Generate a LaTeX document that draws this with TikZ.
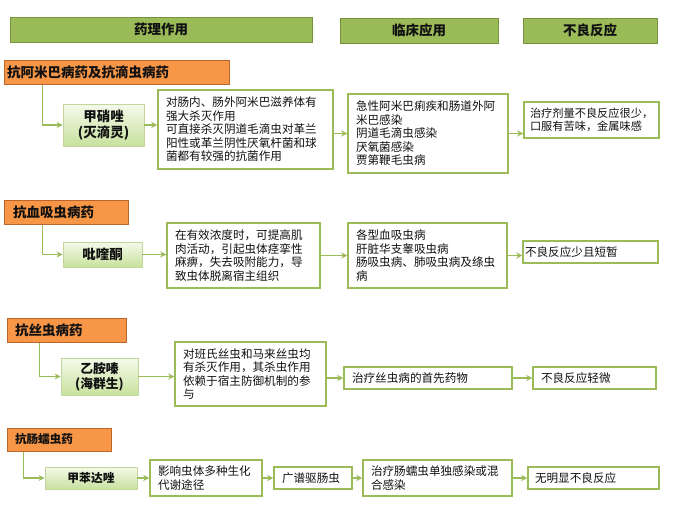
\documentclass[tikz,border=0pt]{standalone}
\usepackage{fontspec}
\setmainfont{Noto Sans CJK SC}
\usetikzlibrary{arrows.meta,calc}
\definecolor{hg}{HTML}{9BBB59}
\definecolor{hgd}{HTML}{76923C}
\definecolor{og}{HTML}{F79646}
\definecolor{ogd}{HTML}{B9652B}
\definecolor{lg}{HTML}{9BBB59}
\definecolor{dtop}{HTML}{F4FAEA}
\definecolor{dbot}{HTML}{C8E19E}
\definecolor{dbd}{HTML}{C3D69B}
\definecolor{tx}{HTML}{111111}
\newcommand\bx[8]{%
  \pgfmathsetmacro\bxw{#5-#3}\pgfmathsetmacro\bxh{#6-#4}%
  \pgfmathsetmacro\bxt{#5-#3-2*#7}%
  \pgfmathsetmacro\bxcx{(#3+#5)/2}\pgfmathsetmacro\bxcy{(#4+#6)/2}%
  \node[#2, minimum width=\bxw pt, minimum height=\bxh pt, inner xsep=#7pt,
        inner ysep=1pt, text width=\bxt pt] (#1) at (\bxcx,\bxcy) {#8};}
\tikzset{
  hdr/.style={fill=hg, draw=hgd, line width=1pt, align=center, text=tx,
    font=\bfseries\fontsize{13.5}{16}\selectfont},
  cat/.style={fill=og, draw=ogd, line width=1pt, align=left, text=tx,
    font=\bfseries\fontsize{13.5}{16}\selectfont},
  drug/.style={top color=dtop, bottom color=dbot, draw=dbd, line width=0.8pt,
    align=center, text=tx, font=\bfseries\fontsize{13.5}{16}\selectfont},
  wbox/.style={fill=white, draw=lg, line width=1.5pt, align=left, text=tx,
    font=\fontsize{11.6}{13.5}\selectfont},
  conn/.style={draw=lg, line width=1.5pt, -{Stealth[length=6pt,width=6pt]}},
}
\begin{document}
\begin{tikzpicture}[x=1pt,y=-1pt]
\useasboundingbox (0,0) rectangle (700,525);
% headers
\bx{h1}{hdr}{10}{17}{312}{42}{2}{药理作用}
\bx{h2}{hdr}{340}{18}{498}{43}{2}{临床应用}
\bx{h3}{hdr}{523}{18}{657}{43}{2}{不良反应}
% section 1
\bx{c1}{cat}{4}{60}{229}{84}{3}{抗阿米巴病药及抗滴虫病药}
\bx{d1}{drug}{63}{104}{144}{146}{2}{甲硝唑\\(灭滴灵)}
\bx{p1}{wbox}{158}{90}{333}{169}{8}{对肠内、肠外阿米巴滋养体有\\强大杀灭作用\\可直接杀灭阴道毛滴虫对革兰\\阳性或革兰阴性厌氧杆菌和球\\菌都有较强的抗菌作用}
\bx{u1}{wbox}{348}{94}{508}{173}{8}{急性阿米巴痢疾和肠道外阿\\米巴感染\\阴道毛滴虫感染\\厌氧菌感染\\贾第鞭毛虫病}
\bx{a1}{wbox,font=\fontsize{11.2}{13.5}\selectfont}{524}{102}{659}{138}{6}{治疗剂量不良反应很少，\\口服有苦味，金属味感}
% section 2
\bx{c2}{cat}{4}{200}{128}{224}{9}{抗血吸虫病药}
\bx{d2}{drug}{63}{242}{142}{267}{2}{吡喹酮}
\bx{p2}{wbox}{167}{223}{320}{288}{8}{在有效浓度时，可提高肌\\肉活动，引起虫体痉挛性\\麻痹，失去吸附能力，导\\致虫体脱离宿主组织}
\bx{u2}{wbox}{348}{223}{507}{288}{8}{各型血吸虫病\\肝脏华支睾吸虫病\\肠吸虫病、肺吸虫病及绦虫\\病}
\bx{a2}{wbox}{523}{241}{658}{263}{2}{不良反应少且短暂}
% section 3
\bx{c3}{cat}{7}{318}{126}{342}{8}{抗丝虫病药}
\bx{d3}{drug,font=\bfseries\fontsize{12.8}{15}\selectfont}{61}{358}{138}{395}{2}{乙胺嗪\\(海群生)}
\bx{p3}{wbox}{175}{342}{326}{406}{8}{对班氏丝虫和马来丝虫均\\有杀灭作用，其杀虫作用\\依赖于宿主防御机制的参\\与}
\bx{u3}{wbox}{344}{367}{512}{389}{8}{治疗丝虫病的首先药物}
\bx{a3}{wbox}{533}{367}{656}{389}{8}{不良反应轻微}
% section 4
\bx{c4}{cat,font=\bfseries\fontsize{11.6}{14}\selectfont}{7}{428}{111}{451}{8}{抗肠蠕虫药}
\bx{d4}{drug,font=\bfseries\fontsize{11.8}{14}\selectfont}{45}{467}{137}{489}{2}{甲苯达唑}
\bx{p4}{wbox}{150}{460}{262}{496}{8}{影响虫体多种生化\\代谢途径}
\bx{q4}{wbox}{274}{467}{352}{489}{8}{广谱驱肠虫}
\bx{u4}{wbox}{363}{460}{512}{496}{8}{治疗肠蠕虫单独感染或混\\合感染}
\bx{a4}{wbox}{528}{467}{659}{489}{7}{无明显不良反应}
% connectors
\draw[conn] ($(c1.south west)+(39,0)$) |- (d1.west);
\draw[conn] (d1.east) -- (d1.east -| p1.west);
\draw[conn] (u1.west -| p1.east) -- (u1.west);
\draw[conn] (u1.east) -- (u1.east -| a1.west);
\draw[conn] ($(c2.south west)+(39,0)$) |- (d2.west);
\draw[conn] (d2.east) -- (d2.east -| p2.west);
\draw[conn] (p2.east) -- (p2.east -| u2.west);
\draw[conn] (u2.east) -- (u2.east -| a2.west);
\draw[conn] ($(c3.south west)+(33,0)$) |- (d3.west);
\draw[conn] (d3.east) -- (d3.east -| p3.west);
\draw[conn] (u3.west -| p3.east) -- (u3.west);
\draw[conn] (u3.east) -- (u3.east -| a3.west);
\draw[conn] ($(c4.south west)+(17,0)$) |- (d4.west);
\draw[conn] (d4.east) -- (d4.east -| p4.west);
\draw[conn] (p4.east) -- (p4.east -| q4.west);
\draw[conn] (q4.east) -- (q4.east -| u4.west);
\draw[conn] (u4.east) -- (u4.east -| a4.west);
\end{tikzpicture}
\end{document}
